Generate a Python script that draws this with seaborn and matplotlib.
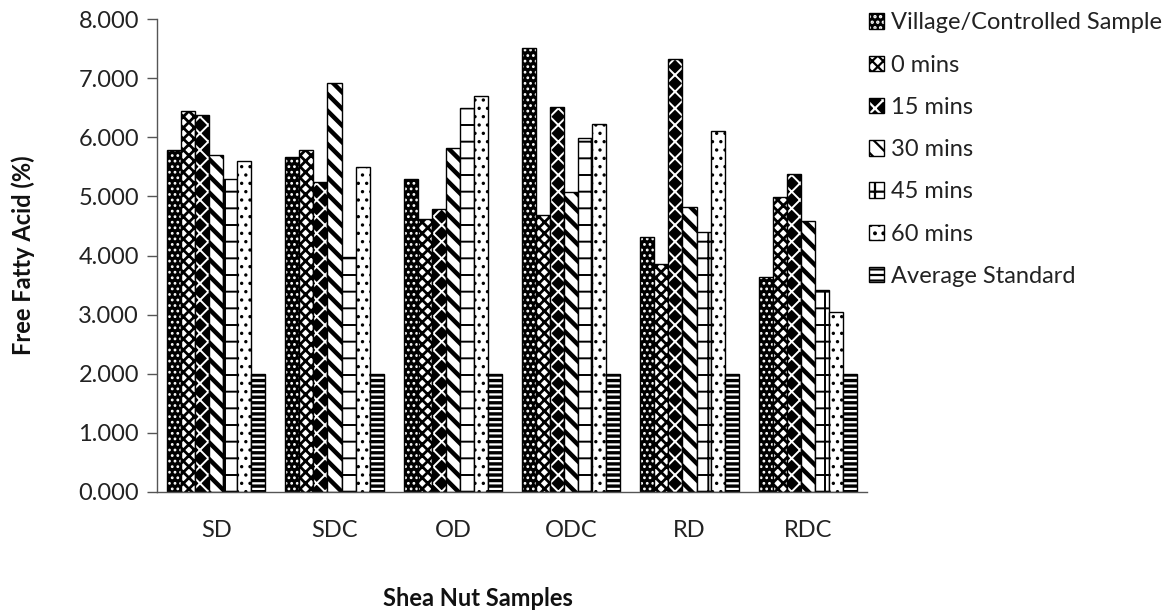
import matplotlib
matplotlib.use("Agg")
import matplotlib.pyplot as plt
import matplotlib.colors as mcolors
import seaborn as sns
import pandas as pd
import numpy as np

# ---- data ----
samples = ["SD", "SDC", "OD", "ODC", "RD", "RDC"]
series_names = ["Village/Controlled Sample", "0 mins", "15 mins", "30 mins",
                "45 mins", "60 mins", "Average Standard"]
village = [5.78, 5.66, 5.29, 7.51, 4.31, 3.63]
min0 = [6.45, 5.79, 4.62, 4.69, 3.86, 4.99]
min15 = [6.38, 5.25, 4.79, 6.51, 7.32, 5.38]
min30 = [5.70, 6.92, 5.81, 5.07, 4.82, 4.59]
min45 = [5.30, 3.98, 6.50, 5.98, 4.39, 3.41]
min60 = [5.59, 5.50, 6.70, 6.22, 6.10, 3.05]
avg_std = [2.00, 2.00, 2.00, 2.00, 2.00, 2.00]
y_ticks = [0, 1, 2, 3, 4, 5, 6, 7, 8]

series_values = [village, min0, min15, min30, min45, min60, avg_std]
df = pd.DataFrame({
    "Sample": [s for _ in series_names for s in samples],
    "Series": [n for n in series_names for _ in samples],
    "FFA": [v for vals in series_values for v in vals],
})

# ---- style ----
sns.set_style("white")
plt.rcParams["font.family"] = ["Lato", "DejaVu Sans"]
plt.rcParams["hatch.linewidth"] = 1.6

fig = plt.figure(figsize=(11.73, 6.12), dpi=100)
ax = fig.add_axes([157 / 1173, 1 - 492 / 612, (867 - 157) / 1173, (492 - 19) / 612])

sns.barplot(data=df, x="Sample", y="FFA", hue="Series", order=samples,
            hue_order=series_names, palette=["white"] * 7, width=0.83,
            edgecolor="black", linewidth=1.0, legend=False, ax=ax, errorbar=None)

# (facecolor, hatch, hatchcolor, hatch linewidth)
styles = [
    ("black", "...", "white", 1.2),
    ("white", "xxx", "black", 2.0),
    ("black", "xx", "white", 1.4),
    ("white", "\\\\", "black", 3.2),
    ("white", "+", "black", 1.4),
    ("white", "..", "black", 1.2),
    ("white", "---", "black", 2.4),
]
for cont, (fc, h, hc, hlw) in zip(ax.containers, styles):
    for bar in cont:
        bar.set_facecolor(fc)
        bar.set_edgecolor("black")
        bar.set_hatch(h)
        bar._hatch_color = mcolors.to_rgba(hc)
        if hasattr(bar, "set_hatch_linewidth"):
            bar.set_hatch_linewidth(hlw)

ax.set_ylim(0, 8)
ax.set_yticks(y_ticks)
ax.set_yticklabels([f"{t:.3f}" for t in y_ticks])
ax.tick_params(axis="y", direction="out", length=7, width=1, color="#555555",
               labelsize=17, labelcolor="#222222", pad=6, left=True)
ax.tick_params(axis="x", length=0, labelsize=17, labelcolor="#222222", pad=20)
for side in ["top", "right"]:
    ax.spines[side].set_visible(False)
for side in ["left", "bottom"]:
    ax.spines[side].set_color("#555555")
    ax.spines[side].set_linewidth(1.0)
ax.set_xlabel("")
ax.set_ylabel("")
ax.grid(False)

fig.text(478 / 1173, 1 - 598 / 612, "Shea Nut Samples", ha="center", va="center",
         fontsize=17, fontweight="bold", color="#111111")
fig.text(23 / 1173, 1 - 255 / 612, "Free Fatty Acid (%)", ha="center", va="center",
         rotation=90, fontsize=17, fontweight="bold", color="#111111")

handles = [cont.patches[0] for cont in ax.containers]
fig.legend(handles, series_names, loc="upper left",
           bbox_to_anchor=(860 / 1173, 1 - 3 / 612), frameon=False,
           fontsize=17, handlelength=0.62, handleheight=0.62,
           handletextpad=0.3, labelspacing=0.9, borderaxespad=0,
           labelcolor="#222222")

fig.savefig("out.png", dpi=100)
